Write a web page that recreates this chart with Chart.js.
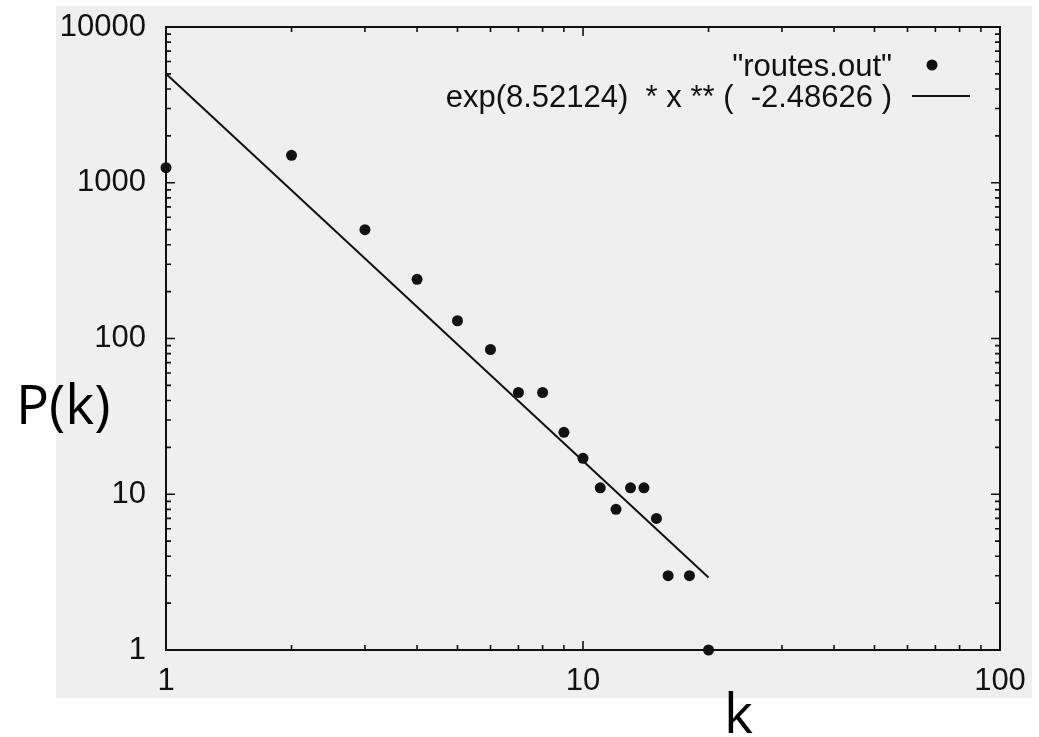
<!DOCTYPE html>
<html>
<head>
<meta charset="utf-8">
<script src="https://cdn.jsdelivr.net/npm/chart.js@4/dist/chart.umd.min.js"></script>
<style>
html, body { margin: 0; padding: 0; background: #fff; }
</style>
</head>
<body>
<canvas id="degree-chart" width="1039" height="737"></canvas>
<script>
// degree distribution
var degreeK = [1, 2, 3, 4, 5, 6, 7, 8, 9, 10, 11, 12, 13, 14, 15, 16, 18, 20];
var countP  = [1250, 1500, 500, 240, 130, 85, 45, 45, 25, 17, 11, 8, 11, 11, 7, 3, 3, 1];
// fitted power law, its two end points
var fitK = [1, 20];
var fitP = [5018, 2.92];
var xTickLabels = [1, 10, 100];
var yTickLabels = [1, 10, 100, 1000, 10000];
var dataLabel = '"routes.out"';
var fitLabel  = 'exp(8.52124)  * x ** (  -2.48626 )';

var ink = '#111';
var tickFont = '31px "Liberation Sans", Arial, sans-serif';

var pts = [];
degreeK.forEach(function(k, i) { pts.push({x: k, y: countP[i]}); });
var fitPts = [];
fitK.forEach(function(k, i) { fitPts.push({x: k, y: fitP[i]}); });

function drawTicks(ctx, scale, decades, horizontal, area) {
    var lo = decades[0], hi = decades[decades.length - 1];
    for (var d = lo; d <= hi; d *= 10) {
        for (var m = 1; m <= 9; m++) {
            var v = d * m;
            if (v > hi) break;
            var len = (m === 1) ? 9 : 5;
            var p = scale.getPixelForValue(v);
            ctx.beginPath();
            if (horizontal) {
                ctx.moveTo(p, area.bottom); ctx.lineTo(p, area.bottom - len);
                ctx.moveTo(p, area.top);    ctx.lineTo(p, area.top + len);
            } else {
                ctx.moveTo(area.left, p);  ctx.lineTo(area.left + len, p);
                ctx.moveTo(area.right, p); ctx.lineTo(area.right - len, p);
            }
            ctx.stroke();
        }
    }
}

var scanPlugin = {
    id: 'scan',
    beforeDraw: function(chart) {
        var ctx = chart.ctx;
        ctx.save();
        ctx.fillStyle = '#efefef';
        ctx.fillRect(56, 6, 976, 692);
        ctx.restore();
    },
    beforeDatasetsDraw: function(chart) {
        var ctx = chart.ctx, a = chart.chartArea;
        ctx.save();
        ctx.strokeStyle = ink;
        ctx.lineWidth = 2;
        ctx.strokeRect(a.left, a.top, a.right - a.left, a.bottom - a.top);
        ctx.lineWidth = 1.6;
        drawTicks(ctx, chart.scales.x, xTickLabels, true, a);
        drawTicks(ctx, chart.scales.y, yTickLabels, false, a);
        ctx.restore();
    },
    afterDraw: function(chart) {
        var ctx = chart.ctx;
        ctx.save();
        // key, top right
        ctx.fillStyle = ink;
        ctx.font = tickFont;
        ctx.textAlign = 'right';
        ctx.textBaseline = 'alphabetic';
        ctx.fillText(chart.data.datasets[0].label, 892, 76);
        ctx.fillText(chart.data.datasets[1].label, 892, 107);
        ctx.beginPath();
        ctx.arc(932, 65, 5.5, 0, Math.PI * 2);
        ctx.fill();
        ctx.strokeStyle = ink;
        ctx.lineWidth = 2;
        ctx.beginPath();
        ctx.moveTo(912, 96); ctx.lineTo(970, 96);
        ctx.stroke();
        // axis names
        ctx.fillStyle = '#000';
        ctx.font = '55px "Open Sans", "Noto Sans", sans-serif';
        ctx.textAlign = 'left';
        ctx.fillText('P(k)', 16, 424);
        ctx.fillText('k', 724, 733);
        ctx.restore();
    }
};

new Chart(document.getElementById('degree-chart'), {
    type: 'scatter',
    data: {
        datasets: [{
            label: dataLabel,
            data: pts,
            showLine: false,
            pointStyle: 'circle',
            pointRadius: 5.5,
            backgroundColor: ink,
            borderColor: ink,
            borderWidth: 0,
            clip: false
        }, {
            label: fitLabel,
            data: fitPts,
            showLine: true,
            pointRadius: 0,
            borderColor: ink,
            borderWidth: 2,
            fill: false,
            clip: false
        }]
    },
    options: {
        responsive: false,
        animation: false,
        layout: { padding: { left: 0, right: 39, top: 27, bottom: 0 } },
        plugins: {
            legend: { display: false },
            tooltip: { enabled: false }
        },
        scales: {
            x: {
                type: 'logarithmic',
                min: 1,
                max: 100,
                grid: { display: false, drawTicks: false },
                border: { display: false },
                afterBuildTicks: function(s) {
                    s.ticks = xTickLabels.map(function(v) { return {value: v}; });
                },
                afterFit: function(s) { s.height = 87; s.paddingLeft = 0; s.paddingRight = 0; },
                ticks: {
                    autoSkip: false,
                    maxRotation: 0,
                    padding: 13,
                    color: ink,
                    font: { family: '"Liberation Sans", Arial, sans-serif', size: 31 },
                    callback: function(v) { return String(v); }
                }
            },
            y: {
                type: 'logarithmic',
                min: 1,
                max: 10000,
                grid: { display: false, drawTicks: false },
                border: { display: false },
                afterBuildTicks: function(s) {
                    s.ticks = yTickLabels.map(function(v) { return {value: v}; });
                },
                afterFit: function(s) { s.width = 166; s.paddingTop = 0; s.paddingBottom = 0; },
                ticks: {
                    autoSkip: false,
                    padding: 20,
                    color: ink,
                    font: { family: '"Liberation Sans", Arial, sans-serif', size: 31 },
                    callback: function(v) { return String(v); }
                }
            }
        }
    },
    plugins: [scanPlugin]
});
</script>
</body>
</html>
